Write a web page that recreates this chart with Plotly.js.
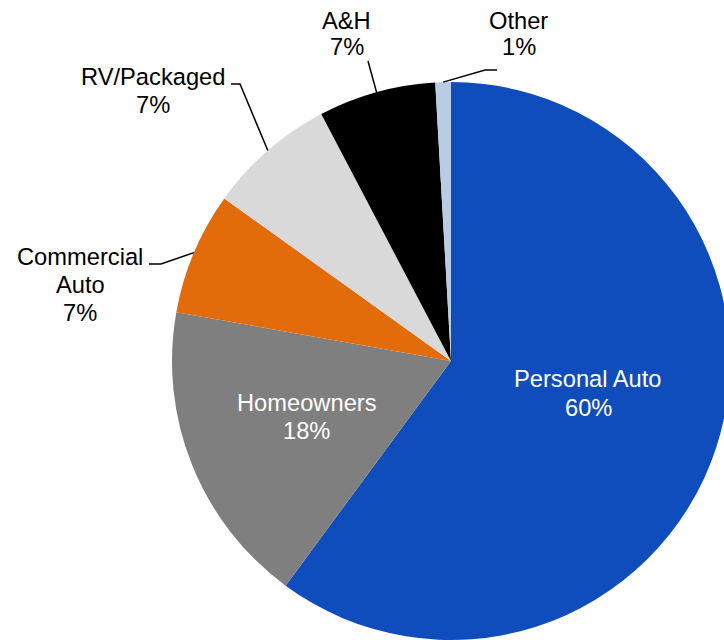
<!DOCTYPE html>
<html><head><meta charset="utf-8">
<script src="https://cdn.plot.ly/plotly-3.0.1.min.js"></script>
<style>html,body{margin:0;padding:0;overflow:hidden;background:#fff}#chart{width:760px;height:640px}</style>
</head><body><div id="chart"></div>
<script>
// ---- data ----
const labels = ['Personal Auto', 'Homeowners', 'Commercial Auto', 'RV/Packaged', 'A&H', 'Other'];
const values = [60.1, 17.7, 7.1, 7.4, 6.8, 0.9];
const colors = ['#0F4DBC', '#7F7F7F', '#E36C0A', '#D9D9D9', '#000000', '#B8CCE4'];

// ---- layout geometry (pixels) ----
const W = 760, H = 640;
const ML = 172, MR = 30, MT = 82, MB = 0;
const PW = W - ML - MR, PH = H - MT - MB;
const CX = ML + PW / 2, CY = MT + PH / 2, R = Math.min(PW, PH) / 2;
const FONT = 'Liberation Sans, Arial, sans-serif';
const FS = 23.7;

const px2x = p => (p - ML) / PW;
const py2y = p => 1 - (p - MT) / PH;

const total = values.reduce((a, b) => a + b, 0);
const pct = i => Math.round(values[i] / total * 100) + '%';
// edge point of slice i at its mid-angle (clockwise from 12 o'clock)
function edgePoint(i) {
  let before = 0;
  for (let k = 0; k < i; k++) before += values[k];
  const ang = (before + values[i] / 2) / total * 2 * Math.PI;
  return [CX + R * Math.sin(ang), CY - R * Math.cos(ang)];
}

// label placement: text column centre x, line centre ys, leader elbow points (pixels)
const placements = [
  {i: 0, x: 588, ys: [379, 407.5], wrap: false, color: '#fff', lead: null},
  {i: 1, x: 306.5, ys: [403, 431.3], wrap: false, color: '#fff', lead: null},
  {i: 2, x: 80.3, ys: [256.7, 285, 312.5], wrap: true, color: '#000', lead: [[149, 264], [161, 264]]},
  {i: 3, x: 153.4, ys: [77, 105], wrap: false, color: '#000', lead: [[231, 84], [240, 84]]},
  {i: 4, x: 346.5, ys: [21, 47], wrap: false, color: '#000', lead: [[368, 61]]},
  {i: 5, x: 518.5, ys: [21, 47], wrap: false, color: '#000', lead: [[497, 70], [485, 70]]}
];

const annotations = [];
placements.forEach(p => {
  const lines = (p.wrap ? labels[p.i].split(' ') : [labels[p.i]]).concat([pct(p.i)]);
  lines.forEach((t, k) => annotations.push({
    xref: 'paper', yref: 'paper', x: px2x(p.x), y: py2y(p.ys[k]),
    xanchor: 'center', yanchor: 'middle', showarrow: false, text: t,
    font: {family: FONT, size: FS, color: p.color}
  }));
});

const shapes = placements.filter(p => p.lead).map(p => {
  const pts = p.lead.concat([edgePoint(p.i)]);
  const path = pts.map((q, k) => (k ? 'L' : 'M') + px2x(q[0]).toFixed(5) + ',' + py2y(q[1]).toFixed(5)).join(' ');
  return {type: 'path', xref: 'paper', yref: 'paper', path: path, line: {color: '#000', width: 1.5}};
});

const trace = {
  type: 'pie',
  labels: labels,
  values: values,
  sort: false,
  direction: 'clockwise',
  rotation: 0,
  marker: {colors: colors, line: {width: 0}},
  textposition: 'none',
  hoverinfo: 'none',
  showlegend: false
};

const layout = {
  width: W, height: H,
  margin: {l: ML, r: MR, t: MT, b: MB, autoexpand: false},
  paper_bgcolor: '#fff',
  showlegend: false,
  annotations: annotations,
  shapes: shapes
};

Plotly.newPlot('chart', [trace], layout, {displayModeBar: false, staticPlot: true});
</script>
</body></html>
